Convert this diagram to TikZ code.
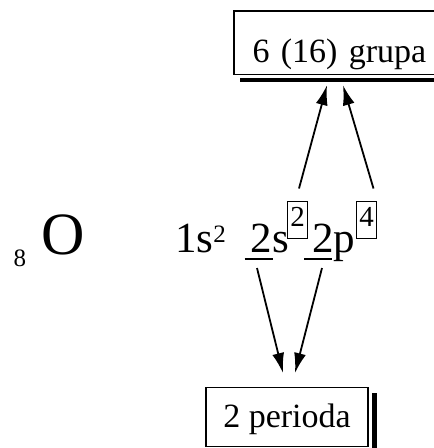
\documentclass[tikz,border=0pt]{standalone}
\usepackage{fontspec}
\setmainfont{Liberation Serif}
\usetikzlibrary{arrows.meta, positioning, calc}

\begin{document}
\begin{tikzpicture}[x=1pt, y=1pt,
  box/.style={draw, line width=1.2pt, inner xsep=0pt, inner ysep=4pt,
              font=\fontsize{34}{40}\selectfont},
  edge/.style={line width=1.2pt},
  supbox/.style={draw, line width=1pt, anchor=base west, inner xsep=2.75pt,
                 inner ysep=4pt, text height=21pt, text depth=8pt,
                 font=\fontsize{29}{34}\selectfont},
  txt/.style={inner sep=0pt, anchor=base west, font=\fontsize{43}{50}\selectfont},
  arr/.style={-{Latex[length=20pt, width=12pt]}, line width=1.8pt},
  shade/.style={line width=4.5pt},
  uline/.style={line width=1.3pt},
]
  \useasboundingbox (0,0) rectangle (434,-448);
  \clip (0,0) rectangle (434,-448);

  % boxes with their shadows
  \node[box, draw=none, anchor=north west, text height=47pt, text depth=7pt,
        text width=182pt, inner xsep=18pt, align=left] (grupa) at (234,-11) {6 (16) grupa};
  \draw[edge] (grupa.north east) -- (grupa.north west) -- (grupa.south west) -- (grupa.south east);
  \draw[shade] ($(grupa.south west)+(6,-6)$) -- ($(grupa.south east)+(0,-6)$);
  \node[box, anchor=north, text height=36pt, text depth=15pt,
        minimum width=162pt] (perioda) at (287,-387) {2 perioda};
  \draw[shade] ($(perioda.north east)+(6,-6)$) -- ($(perioda.south east)+(6,-2)$);

  % element and configuration
  \node[txt, font=\fontsize{25}{30}\selectfont] (z) at (13.5,-266) {8};
  \node[txt, font=\fontsize{60}{70}\selectfont] (el) at (41,-254) {O};
  \node[txt] (c1) at (175,-252) {1s\raisebox{10pt}{\fontsize{25}{30}\selectfont 2}};
  \node[txt] (c2) at (250.5,-252) {2s};
  \node[supbox] (n2) at (287,-226) {2};
  \node[txt] (c3) at (312,-252) {2p};
  \node[supbox] (n4) at (356,-226) {4};
  \draw[uline] ($(c2.base west)+(-6,-7)$) -- ++(28.5,0);
  \draw[uline] ($(c3.base west)+(-8,-7)$) -- ++(27.5,0);

  % arrow ends
  \coordinate (u1) at ($(n2.north)+(1.5,12)$);
  \coordinate (u2) at ($(n4.north)+(7,12)$);
  \coordinate (g1) at ($(grupa.south west)+(93,-11)$);
  \coordinate (g2) at ($(grupa.south west)+(109,-11)$);
  \coordinate (d1) at ($(c2.base west)+(6.5,-16)$);
  \coordinate (d2) at ($(c3.base west)+(10,-16)$);
  \coordinate (p1) at ($(perioda.north)+(-4,14)$);
  \coordinate (p2) at ($(perioda.north)+(8,14)$);

  \draw[arr] (u1) -- (g1);
  \draw[arr] (u2) -- (g2);
  \draw[arr] (d1) -- (p1);
  \draw[arr] (d2) -- (p2);
\end{tikzpicture}
\end{document}
